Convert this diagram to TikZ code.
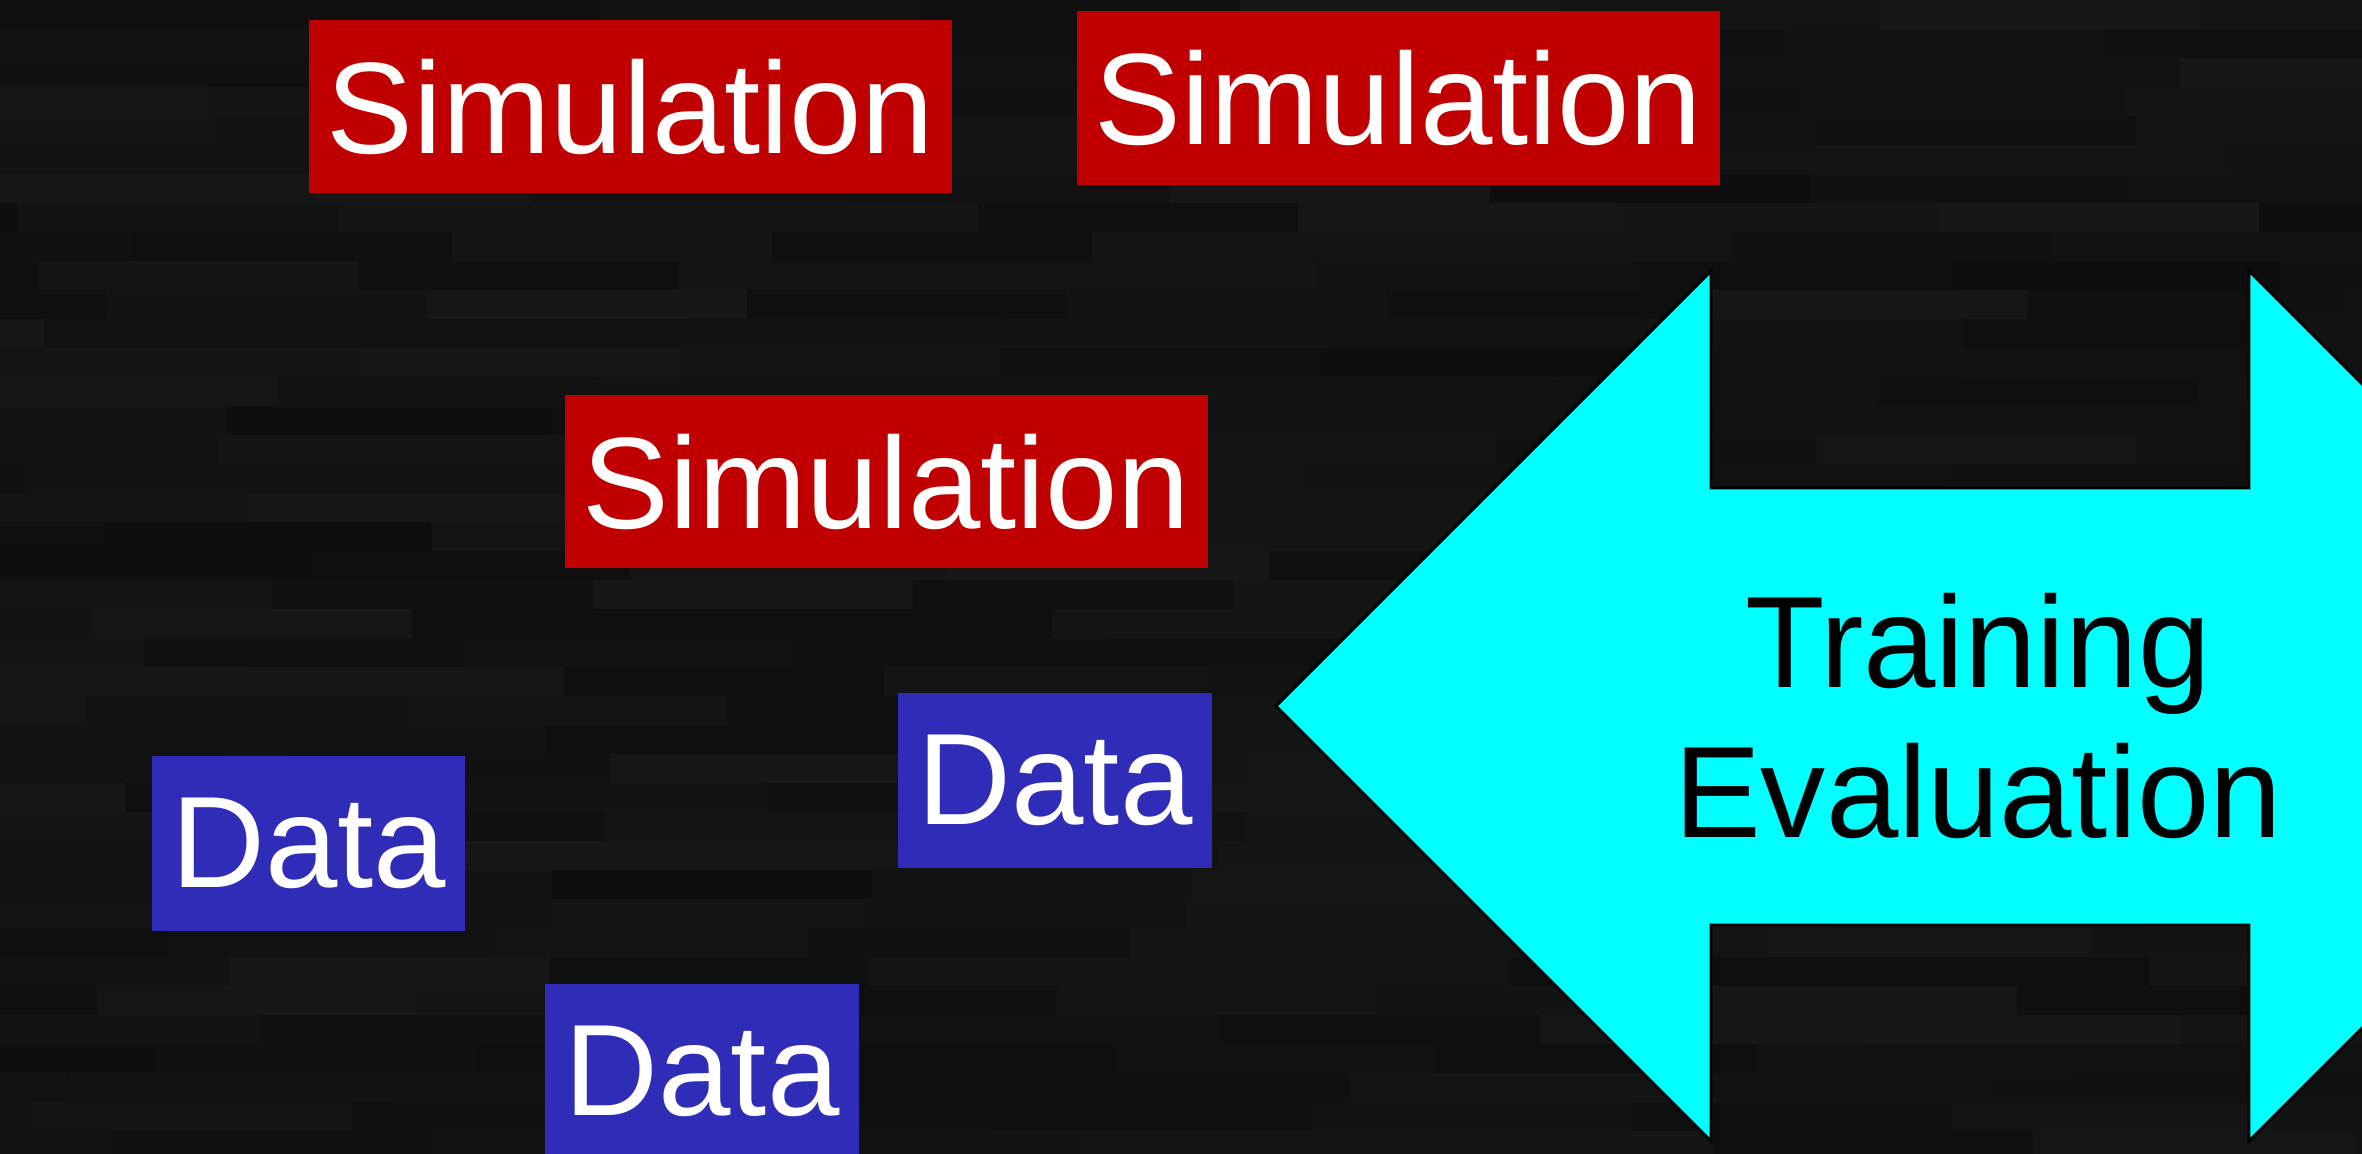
\documentclass[tikz,border=0pt]{standalone}
\usepackage{fontspec}
\setmainfont{Liberation Sans}
\begin{document}
\definecolor{simred}{RGB}{192,0,0}
\definecolor{datablue}{RGB}{47,45,184}
\definecolor{cyanfill}{RGB}{0,255,255}
\begin{tikzpicture}[x=0.01cm,y=-0.01cm,
  lbl/.style={inner sep=0pt, text=white, font=\fontsize{37}{42.5}\selectfont},
  simbox/.style={lbl, fill=simred, minimum width=6.43cm, minimum height=1.73cm},
  databox/.style={lbl, fill=datablue, minimum width=3.13cm, minimum height=1.75cm},
  bigarrow/.style={fill=cyanfill, draw=black, line width=0.8pt, line join=miter}]
\useasboundingbox (0,0) rectangle (2362,1154);
\clip (0,0) rectangle (2362,1154);
% dark textured backdrop
\fill[white!6.5!black] (0,0) rectangle (2362,1154);
\pgfmathsetseed{7}
\foreach \r in {0,...,39} {
  \pgfmathsetmacro\off{rnd*320}
  \foreach \c in {-1,...,8} {
    \pgfmathsetmacro\p{5.5+rnd*3.5}
    \fill[white!\p!black] (\c*320+\off,\r*29) rectangle ++(320,29);
  }
}
% double-headed arrow
\draw[bigarrow] (1276,706) -- (1711,271) -- (1711,488) -- (2249,488) -- (2249,271)
  -- (2684,706) -- (2249,1141) -- (2249,925) -- (1711,925) -- (1711,1141) -- cycle;
\node[lbl, text=black, align=center] (te) at (1978,716) {Training\\Evaluation};
% labelled boxes
\node[simbox] (s1) at (630.5,106.5) {Simulation};
\node[simbox] (s2) at (1398.5,98) {Simulation};
\node[simbox] (s3) at (886.5,481.5) {Simulation};
\node[databox] (d1) at (308.5,843.5) {Data};
\node[databox] (d2) at (1055,780.5) {Data};
\node[databox] (d3) at (702,1071.5) {Data};
\end{tikzpicture}
\end{document}
